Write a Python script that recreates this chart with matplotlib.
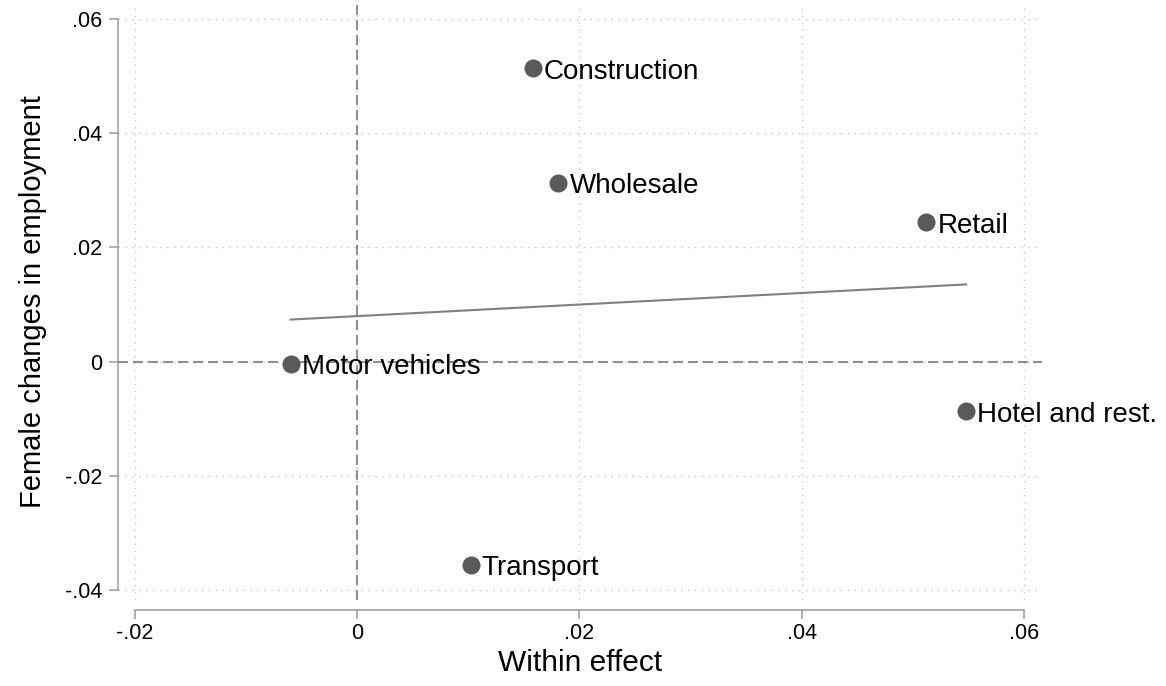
import numpy as np
import matplotlib
matplotlib.use("Agg")
import matplotlib.pyplot as plt

plt.rcParams['font.family'] = ['Liberation Sans', 'DejaVu Sans']

# industries: within effect vs. female changes in employment
industries = ['Construction', 'Wholesale', 'Retail', 'Motor vehicles',
              'Hotel and rest.', 'Transport']
within = [0.0158, 0.0181, 0.0512, -0.0060, 0.0548, 0.0102]
female = [0.0514, 0.0313, 0.0244, -0.0004, -0.0087, -0.0356]

xticks = [-0.02, 0, 0.02, 0.04, 0.06]
xlabels = ['-.02', '0', '.02', '.04', '.06']
yticks = [-0.04, -0.02, 0, 0.02, 0.04, 0.06]
ylabels = ['-.04', '-.02', '0', '.02', '.04', '.06']

fig = plt.figure(figsize=(11.66, 6.86), dpi=100)
ax = fig.add_axes([118/1166, 1 - 600/686, (1042 - 118)/1166, 597/686])

ax.set_xlim(-0.02153, 0.06162)
ax.set_ylim(-0.04175, 0.0628)

# dotted grid
gridstyle = dict(color='#c4c4c4', lw=1.0, ls=(0, (1, 4)), zorder=0)
for t in xticks:
    ax.axvline(t, **gridstyle)
for t in yticks:
    ax.axhline(t, **gridstyle)

# reference lines at zero
ax.axvline(0, color='#7a7a7a', lw=1.2, ls=(0, (6, 3)), zorder=1)
ax.axhline(0, color='#7a7a7a', lw=1.2, ls=(0, (6, 3)), zorder=1)

# linear fit
b, a = np.polyfit(within, female, 1)
xs = np.array([min(within), max(within)])
ax.plot(xs, a + b * xs, color='#808080', lw=1.5, zorder=2)

ax.plot(within, female, 'o', color='#5a5a5a', markersize=13,
        markeredgewidth=0, zorder=3)
for name, x, y in zip(industries, within, female):
    ax.annotate(name, (x, y), xytext=(8, -2.5), textcoords='offset points',
                va='center', ha='left', fontsize=20, color='black', zorder=4)

for s in ['top', 'right']:
    ax.spines[s].set_visible(False)
ax.spines['left'].set_bounds(-0.04, 0.06)
ax.spines['bottom'].set_bounds(-0.02, 0.06)
ax.spines['bottom'].set_position(('outward', 7))
for s in ['left', 'bottom']:
    ax.spines[s].set_color('#9a9a9a')
    ax.spines[s].set_linewidth(1.1)

ax.set_xticks(xticks)
ax.set_xticklabels(xlabels)
ax.set_yticks(yticks)
ax.set_yticklabels(ylabels)
ax.tick_params(axis='both', colors='#9a9a9a', labelcolor='black',
               length=6.5, width=1.1, labelsize=15.5, pad=5)
ax.tick_params(axis='x', pad=3)

ax.set_xlabel('Within effect', fontsize=21.5, labelpad=4)
ax.set_ylabel('Female changes in employment', fontsize=21, labelpad=13)

fig.savefig('out.png', dpi=100)
